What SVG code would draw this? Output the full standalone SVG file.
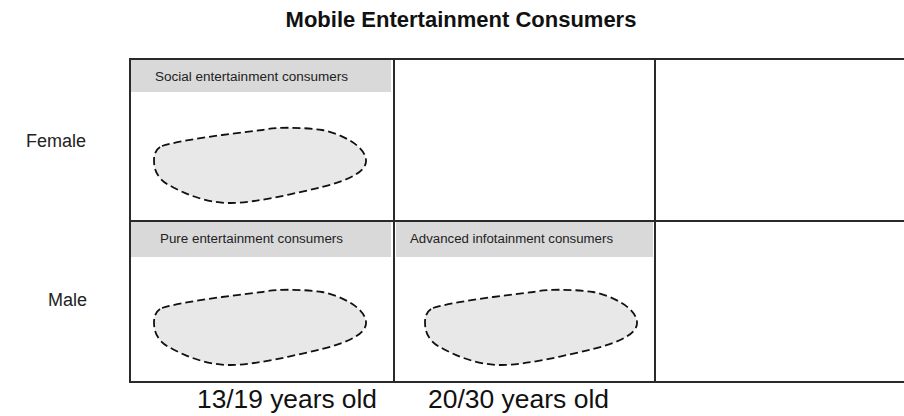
<svg xmlns="http://www.w3.org/2000/svg" width="904" height="416" viewBox="0 0 904 416">
  <style>
    .title { font-family: "Liberation Sans", Arial, sans-serif; font-weight: bold; font-size: 22px; fill: #111; }
    .axis { font-family: "Liberation Sans", Arial, sans-serif; font-size: 18px; fill: #222; }
    .age { font-family: "Liberation Sans", Arial, sans-serif; font-size: 25px; fill: #111; }
    .hdr { fill: #d9d9d9; }
    .hdr-text { font-family: "Liberation Sans", Arial, sans-serif; font-size: 12.5px; fill: #222; }
    .grid { stroke: #2a2a2a; stroke-width: 2; fill: none; }
    .blob { fill: #e8e8e8; stroke: #111; stroke-width: 1.8; stroke-dasharray: 8 4; }
  </style>
  <defs>
    <!-- irregular dashed segment outline, drawn in the first cell and reused -->
    <path id="blobShape" d="M162,146 C185,139 230,134 262,130 C276,127 300,127 322,130 C342,134 365,146 366,160 C367,171 350,180 322,187 C292,194 255,203 230,203 C205,203 183,193 167,184 C156,177 154,168 154,160 C154,153 157,148 162,146 Z"/>
  </defs>

  <rect width="904" height="416" fill="#ffffff"/>

  <text class="title" x="461" y="27" text-anchor="middle">Mobile Entertainment Consumers</text>

  <!-- row labels -->
  <text class="axis" x="86" y="147" text-anchor="end">Female</text>
  <text class="axis" x="87" y="306" text-anchor="end">Male</text>

  <!-- column labels -->
  <text class="age" x="197" y="408" textLength="180" lengthAdjust="spacingAndGlyphs">13/19 years old</text>
  <text class="age" x="428" y="408" textLength="181" lengthAdjust="spacingAndGlyphs">20/30 years old</text>

  <!-- cell: female / 13-19 -->
  <g id="social">
    <rect class="hdr" x="131" y="60" width="260" height="32"/>
    <text class="hdr-text" x="155" y="81" textLength="193" lengthAdjust="spacingAndGlyphs">Social entertainment consumers</text>
    <use href="#blobShape" class="blob"/>
  </g>

  <!-- cell: male / 13-19 -->
  <g id="pure">
    <rect class="hdr" x="131" y="222" width="260" height="35"/>
    <text class="hdr-text" x="160" y="243" textLength="183" lengthAdjust="spacingAndGlyphs">Pure entertainment consumers</text>
    <use href="#blobShape" class="blob" transform="translate(0,162)"/>
  </g>

  <!-- cell: male / 20-30 -->
  <g id="advanced">
    <rect class="hdr" x="396" y="222" width="257" height="35"/>
    <text class="hdr-text" x="410" y="243" textLength="203" lengthAdjust="spacingAndGlyphs">Advanced infotainment consumers</text>
    <use href="#blobShape" class="blob" transform="translate(271,162)"/>
  </g>

  <!-- grid lines -->
  <g id="grid">
    <line class="grid" x1="129" y1="59" x2="904" y2="59"/>
    <line class="grid" x1="129" y1="221" x2="904" y2="221"/>
    <line class="grid" x1="129" y1="382" x2="904" y2="382"/>
    <line class="grid" x1="130" y1="58" x2="130" y2="383"/>
    <line class="grid" x1="394" y1="58" x2="394" y2="383" stroke-width="2.6"/>
    <line class="grid" x1="655" y1="58" x2="655" y2="383"/>
  </g>
</svg>
